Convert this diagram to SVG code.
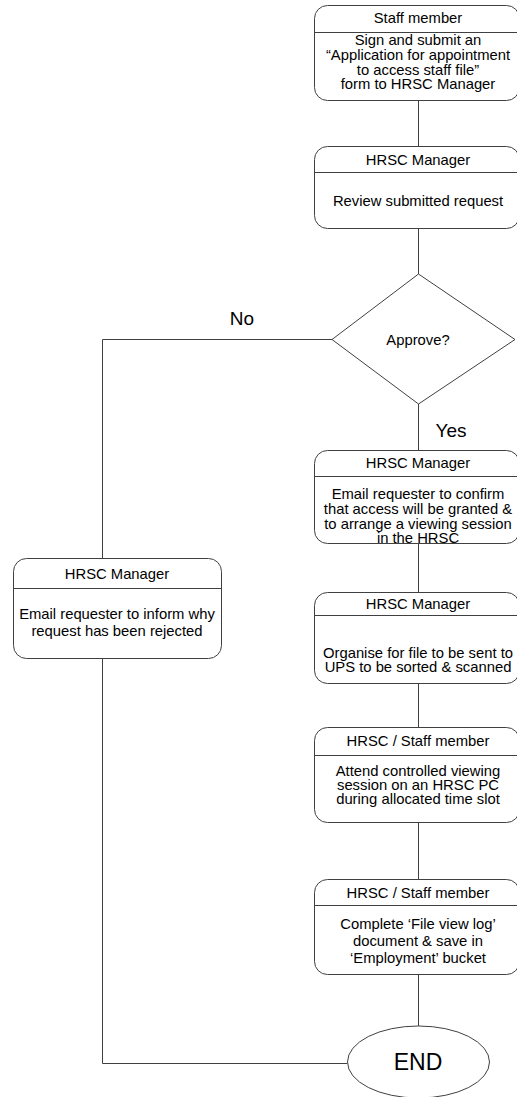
<svg xmlns="http://www.w3.org/2000/svg" width="517" height="1097" viewBox="0 0 517 1097">
<style>
.box{fill:#fff;stroke:#404040;stroke-width:1}
.sep{stroke:#404040;stroke-width:1}
.t{font-family:"Liberation Sans",Arial,sans-serif;font-size:14.8px;fill:#000;text-anchor:middle}
.lbl{font-family:"Liberation Sans",Arial,sans-serif;font-size:19px;fill:#000;text-anchor:middle}
.c{fill:none;stroke:#404040;stroke-width:1}
</style>
<rect width="517" height="1097" fill="#fff"/>
<g id="connectors">
<line class="c" x1="418.5" y1="100" x2="418.5" y2="146"/>
<line class="c" x1="418.5" y1="228" x2="418.5" y2="274"/>
<line class="c" x1="418.5" y1="404" x2="418.5" y2="450"/>
<line class="c" x1="418.5" y1="543" x2="418.5" y2="592"/>
<line class="c" x1="418.5" y1="683" x2="418.5" y2="727"/>
<line class="c" x1="418.5" y1="822" x2="418.5" y2="879"/>
<line class="c" x1="418.5" y1="974" x2="418.5" y2="1026"/>
<polyline class="c" points="332,339.5 102.5,339.5 102.5,558"/>
<polyline class="c" points="102.5,658 102.5,1063.5 347,1063.5"/>
<text class="lbl" x="242" y="325">No</text>
<text class="lbl" x="451" y="437">Yes</text>
</g>
<g id="n1">
<rect class="box" x="314.5" y="5.5" width="205" height="95" rx="13"/>
<line class="sep" x1="314.5" y1="32.5" x2="519" y2="32.5"/>
<text class="t" x="418" y="23">Staff member</text>
<text class="t" x="418" y="44.5">Sign and submit an</text>
<text class="t" x="418" y="59.5">“Application for appointment</text>
<text class="t" x="418" y="74.5">to access staff file”</text>
<text class="t" x="418" y="88.5">form to HRSC Manager</text>
</g>
<g id="n2">
<rect class="box" x="314.5" y="146.5" width="205" height="82" rx="13"/>
<line class="sep" x1="314.5" y1="172.5" x2="519" y2="172.5"/>
<text class="t" x="418" y="164.5">HRSC Manager</text>
<text class="t" x="418" y="205.5">Review submitted request</text>
</g>
<g id="decision">
<polygon class="box" points="418.5,274 515,339.5 418.5,404 332,339.5"/>
<text class="t" x="418" y="344.5">Approve?</text>
</g>
<g id="n3">
<rect class="box" x="314.5" y="450.5" width="205" height="93" rx="13"/>
<line class="sep" x1="314.5" y1="476.5" x2="519" y2="476.5"/>
<text class="t" x="418" y="467.5">HRSC Manager</text>
<text class="t" x="418" y="498.5">Email requester to confirm</text>
<text class="t" x="418" y="513.5">that access will be granted &amp;</text>
<text class="t" x="418" y="528.5">to arrange a viewing session</text>
<text class="t" x="418" y="542.5">in the HRSC</text>
</g>
<g id="n4">
<rect class="box" x="314.5" y="592.5" width="205" height="91" rx="13"/>
<line class="sep" x1="314.5" y1="615.5" x2="519" y2="615.5"/>
<text class="t" x="418" y="608.5">HRSC Manager</text>
<text class="t" x="418" y="657.5">Organise for file to be sent to</text>
<text class="t" x="418" y="671.5">UPS to be sorted &amp; scanned</text>
</g>
<g id="n5">
<rect class="box" x="314.5" y="727.5" width="205" height="95" rx="13"/>
<line class="sep" x1="314.5" y1="755.5" x2="519" y2="755.5"/>
<text class="t" x="418" y="745.5">HRSC / Staff member</text>
<text class="t" x="418" y="775.5">Attend controlled viewing</text>
<text class="t" x="418" y="789.5">session on an HRSC PC</text>
<text class="t" x="418" y="803.5">during allocated time slot</text>
</g>
<g id="n6">
<rect class="box" x="314.5" y="879.5" width="205" height="95" rx="13"/>
<line class="sep" x1="314.5" y1="905.5" x2="519" y2="905.5"/>
<text class="t" x="418" y="897.5">HRSC / Staff member</text>
<text class="t" x="418" y="928.5">Complete ‘File view log’</text>
<text class="t" x="418" y="945.5">document &amp; save in</text>
<text class="t" x="418" y="962.5">‘Employment’ bucket</text>
</g>
<g id="reject">
<rect class="box" x="13.5" y="558.5" width="208" height="100" rx="13"/>
<line class="sep" x1="13.5" y1="588.5" x2="221.5" y2="588.5"/>
<text class="t" x="117" y="578.5">HRSC Manager</text>
<text class="t" x="117" y="618.5">Email requester to inform why</text>
<text class="t" x="117" y="635.5">request has been rejected</text>
</g>
<g id="end">
<ellipse class="box" cx="418.5" cy="1062" rx="71" ry="36"/>
<text class="t" x="418" y="1070" style="font-size:23px">END</text>
</g>
</svg>
